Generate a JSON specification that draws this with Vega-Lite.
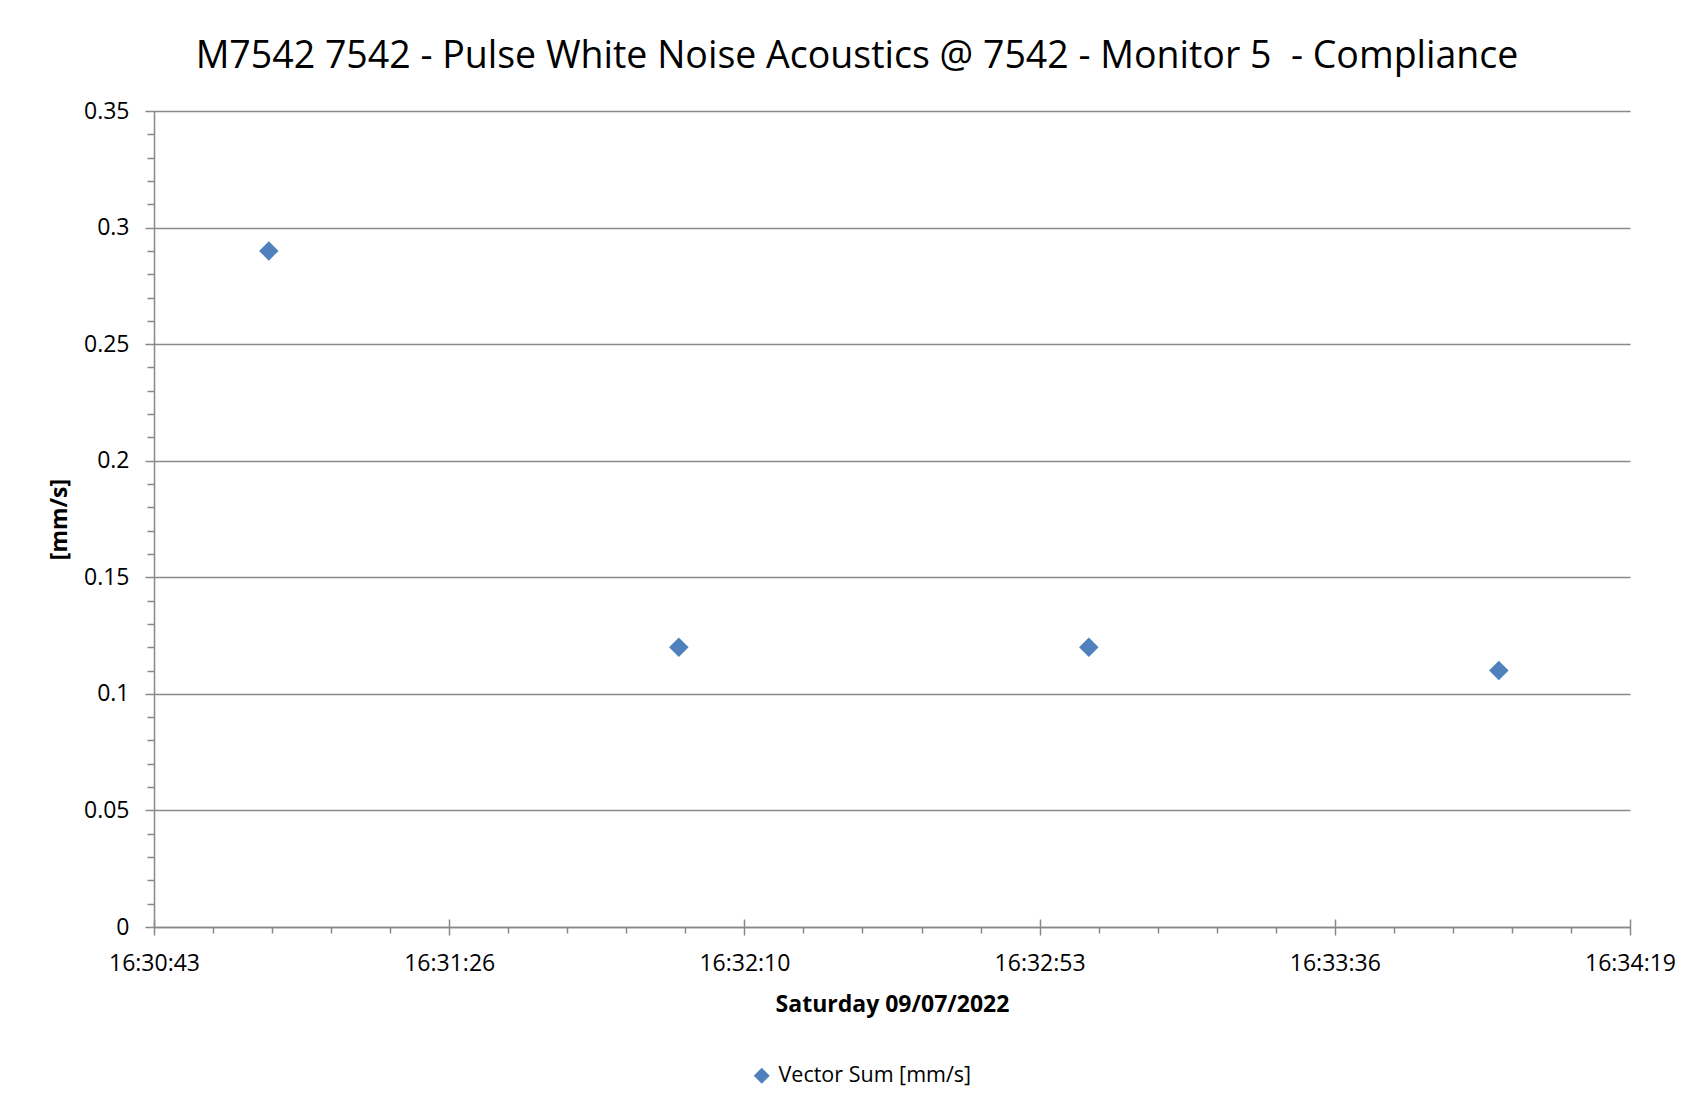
{
  "$schema": "https://vega.github.io/schema/vega-lite/v6.json",
  "width": 1476,
  "height": 816,
  "autosize": "none",
  "padding": {"left": 154, "top": 111, "right": 63, "bottom": 182},
  "background": "white",
  "title": {
    "text": "M7542 7542 - Pulse White Noise Acoustics @ 7542 - Monitor 5\u00a0 - Compliance",
    "font": "Open Sans",
    "fontSize": 37.5,
    "fontWeight": "normal",
    "color": "black",
    "anchor": "middle",
    "dx": -35,
    "baseline": "alphabetic",
    "offset": -5
  },
  "config": {
    "view": {"stroke": null},
    "axis": {
      "labelFont": "Open Sans",
      "labelFontSize": 23,
      "labelColor": "black",
      "titleFont": "Open Sans",
      "titleFontSize": 23,
      "titleFontWeight": "bold",
      "titleColor": "black",
      "domainColor": "#898989",
      "tickColor": "#898989",
      "gridColor": "#898989",
      "domainWidth": 1.5,
      "tickWidth": 1.5,
      "gridWidth": 1.5
    },
    "legend": {
      "labelFont": "Open Sans",
      "labelFontSize": 21.5,
      "labelColor": "black",
      "labelLimit": 0
    }
  },
  "data": {
    "values": [
      {"time": "2022-07-09 16:31:00", "value": 0.29, "series": "Vector Sum [mm/s]"},
      {"time": "2022-07-09 16:32:00", "value": 0.12, "series": "Vector Sum [mm/s]"},
      {"time": "2022-07-09 16:33:00", "value": 0.12, "series": "Vector Sum [mm/s]"},
      {"time": "2022-07-09 16:34:00", "value": 0.11, "series": "Vector Sum [mm/s]"}
    ]
  },
  "layer": [
    {
      "mark": {"type": "point", "opacity": 0},
      "encoding": {
        "x": {
          "field": "time", "type": "temporal",
          "scale": {"domain": [
            {"year": 2022, "month": 7, "date": 9, "hours": 16, "minutes": 30, "seconds": 43, "milliseconds": 200},
            {"year": 2022, "month": 7, "date": 9, "hours": 16, "minutes": 34, "seconds": 19, "milliseconds": 200}
          ], "nice": false},
          "axis": {
            "orient": "bottom", "labels": false, "domain": false, "grid": false, "title": null, "tickSize": 6,
            "values": [
              {"year": 2022, "month": 7, "date": 9, "hours": 16, "minutes": 30, "seconds": 51, "milliseconds": 840},
              {"year": 2022, "month": 7, "date": 9, "hours": 16, "minutes": 31, "seconds": 0, "milliseconds": 480},
              {"year": 2022, "month": 7, "date": 9, "hours": 16, "minutes": 31, "seconds": 9, "milliseconds": 120},
              {"year": 2022, "month": 7, "date": 9, "hours": 16, "minutes": 31, "seconds": 17, "milliseconds": 760},
              {"year": 2022, "month": 7, "date": 9, "hours": 16, "minutes": 31, "seconds": 35, "milliseconds": 40},
              {"year": 2022, "month": 7, "date": 9, "hours": 16, "minutes": 31, "seconds": 43, "milliseconds": 680},
              {"year": 2022, "month": 7, "date": 9, "hours": 16, "minutes": 31, "seconds": 52, "milliseconds": 320},
              {"year": 2022, "month": 7, "date": 9, "hours": 16, "minutes": 32, "seconds": 0, "milliseconds": 960},
              {"year": 2022, "month": 7, "date": 9, "hours": 16, "minutes": 32, "seconds": 18, "milliseconds": 240},
              {"year": 2022, "month": 7, "date": 9, "hours": 16, "minutes": 32, "seconds": 26, "milliseconds": 880},
              {"year": 2022, "month": 7, "date": 9, "hours": 16, "minutes": 32, "seconds": 35, "milliseconds": 520},
              {"year": 2022, "month": 7, "date": 9, "hours": 16, "minutes": 32, "seconds": 44, "milliseconds": 160},
              {"year": 2022, "month": 7, "date": 9, "hours": 16, "minutes": 33, "seconds": 1, "milliseconds": 440},
              {"year": 2022, "month": 7, "date": 9, "hours": 16, "minutes": 33, "seconds": 10, "milliseconds": 80},
              {"year": 2022, "month": 7, "date": 9, "hours": 16, "minutes": 33, "seconds": 18, "milliseconds": 720},
              {"year": 2022, "month": 7, "date": 9, "hours": 16, "minutes": 33, "seconds": 27, "milliseconds": 360},
              {"year": 2022, "month": 7, "date": 9, "hours": 16, "minutes": 33, "seconds": 44, "milliseconds": 640},
              {"year": 2022, "month": 7, "date": 9, "hours": 16, "minutes": 33, "seconds": 53, "milliseconds": 280},
              {"year": 2022, "month": 7, "date": 9, "hours": 16, "minutes": 34, "seconds": 1, "milliseconds": 920},
              {"year": 2022, "month": 7, "date": 9, "hours": 16, "minutes": 34, "seconds": 10, "milliseconds": 560}
            ]
          }
        },
        "y": {
          "field": "value", "type": "quantitative",
          "scale": {"domain": [0, 0.35], "nice": false, "zero": true},
          "axis": {
            "orient": "left", "labels": false, "domain": false, "grid": false, "title": null, "tickSize": 7,
            "values": [0.01, 0.02, 0.03, 0.04, 0.06, 0.07, 0.08, 0.09, 0.11, 0.12, 0.13, 0.14, 0.16, 0.17, 0.18, 0.19, 0.21, 0.22, 0.23, 0.24, 0.26, 0.27, 0.28, 0.29, 0.31, 0.32, 0.33, 0.34]
          }
        }
      }
    },
    {
      "mark": {"type": "point", "opacity": 0},
      "encoding": {
        "x": {
          "field": "time", "type": "temporal",
          "axis": {
            "orient": "bottom", "labels": false, "domain": false, "grid": false, "title": null, "tickSize": 8, "offset": -8,
            "values": [
              {"year": 2022, "month": 7, "date": 9, "hours": 16, "minutes": 30, "seconds": 43, "milliseconds": 200},
              {"year": 2022, "month": 7, "date": 9, "hours": 16, "minutes": 31, "seconds": 26, "milliseconds": 400},
              {"year": 2022, "month": 7, "date": 9, "hours": 16, "minutes": 32, "seconds": 9, "milliseconds": 600},
              {"year": 2022, "month": 7, "date": 9, "hours": 16, "minutes": 32, "seconds": 52, "milliseconds": 800},
              {"year": 2022, "month": 7, "date": 9, "hours": 16, "minutes": 33, "seconds": 36, "milliseconds": 0},
              {"year": 2022, "month": 7, "date": 9, "hours": 16, "minutes": 34, "seconds": 19, "milliseconds": 200}
            ]
          }
        },
        "y": {"field": "value", "type": "quantitative", "axis": null}
      }
    },
    {
      "mark": {"type": "point", "shape": "diamond", "filled": true, "opacity": 1, "size": 380},
      "encoding": {
        "x": {
          "field": "time", "type": "temporal",
          "axis": {
            "orient": "bottom", "grid": false, "tickSize": 8, "labelPadding": 17,
            "title": "Saturday 09/07/2022", "titlePadding": 18,
            "labelExpr": "timeFormat(time(datum.value) + 500, '%H:%M:%S')",
            "labelFlush": false, "labelOverlap": false,
            "values": [
              {"year": 2022, "month": 7, "date": 9, "hours": 16, "minutes": 30, "seconds": 43, "milliseconds": 200},
              {"year": 2022, "month": 7, "date": 9, "hours": 16, "minutes": 31, "seconds": 26, "milliseconds": 400},
              {"year": 2022, "month": 7, "date": 9, "hours": 16, "minutes": 32, "seconds": 9, "milliseconds": 600},
              {"year": 2022, "month": 7, "date": 9, "hours": 16, "minutes": 32, "seconds": 52, "milliseconds": 800},
              {"year": 2022, "month": 7, "date": 9, "hours": 16, "minutes": 33, "seconds": 36, "milliseconds": 0},
              {"year": 2022, "month": 7, "date": 9, "hours": 16, "minutes": 34, "seconds": 19, "milliseconds": 200}
            ]
          }
        },
        "y": {
          "field": "value", "type": "quantitative",
          "axis": {
            "orient": "left", "grid": true, "tickSize": 9, "labelPadding": 16,
            "title": "[mm/s]", "titlePadding": 12,
            "format": ".2~f", "labelFlush": false,
            "values": [0, 0.05, 0.1, 0.15, 0.2, 0.25, 0.3, 0.35]
          }
        },
        "color": {
          "field": "series", "type": "nominal",
          "scale": {"range": ["#4F81BD"]},
          "legend": {
            "orient": "none", "legendX": 597, "legendY": 954,
            "title": null, "symbolType": "diamond", "symbolSize": 256,
            "symbolStrokeWidth": 0, "labelOffset": 6, "padding": 0
          }
        }
      }
    }
  ],
  "resolve": {"axis": {"x": "independent", "y": "independent"}}
}
